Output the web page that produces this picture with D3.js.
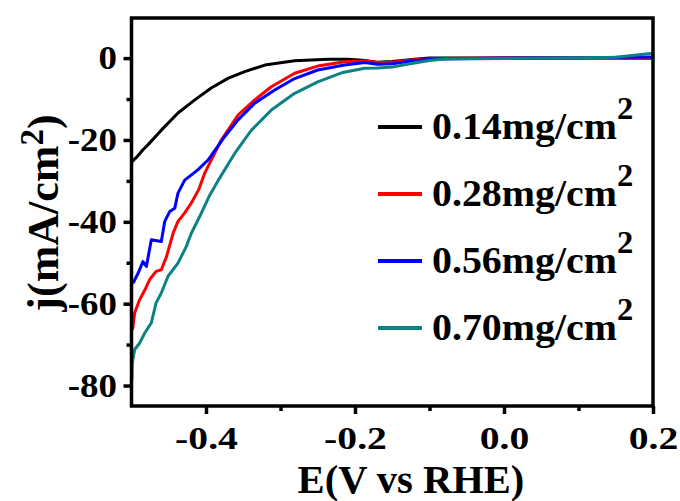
<!doctype html>
<html>
<head>
  <style>
    body { margin: 0; background: #fff; }
    svg text { font-family: "Liberation Serif", "Times New Roman", serif; font-weight: bold; fill: #000; }
  </style>
</head>
<body>
  <svg width="680" height="501"></svg>
  <script src="https://cdnjs.cloudflare.com/ajax/libs/d3/7.8.5/d3.min.js"></script>
  <script>
  // values, E in V vs RHE, j in mA/cm2
  var blackE = [-0.4993, -0.492, -0.4846, -0.478, -0.46, -0.4376, -0.415, -0.393, -0.37, -0.348, -0.321, -0.281, -0.236, -0.21, -0.19, -0.17, -0.15, -0.12, -0.1, -0.05, 0, 0.05, 0.1, 0.15, 0.2];
  var blackJ = [-25.3, -24, -22.4, -21.2, -17.6, -13.4, -10.2, -7.3, -4.9, -3.3, -1.7, -0.65, -0.25, -0.3, -0.5, -1.0, -0.8, -0.3, 0, 0, 0, 0, 0, 0, 0];

  var redE = [-0.4985, -0.4957, -0.489, -0.482, -0.4756, -0.467, -0.46, -0.453, -0.444, -0.4376, -0.4286, -0.4197, -0.41, -0.4017, -0.3795, -0.357, -0.3346, -0.3123, -0.281, -0.25, -0.2138, -0.187, -0.17, -0.15, -0.12, -0.09, 0, 0.1, 0.2];
  var redJ = [-66.3, -62.2, -59, -56.6, -54.1, -52.1, -51.7, -48.5, -42.7, -39.9, -37.8, -35.4, -32.2, -28.1, -20, -13.9, -10.2, -7, -3.7, -1.95, -0.9, -0.7, -1.1, -1.0, -0.4, -0.1, 0, 0, -0.1];

  var blueE = [-0.498, -0.491, -0.4846, -0.48, -0.4734, -0.46, -0.4554, -0.4487, -0.442, -0.4376, -0.4286, -0.411, -0.3973, -0.375, -0.357, -0.3346, -0.3078, -0.281, -0.25, -0.214, -0.187, -0.17, -0.15, -0.12, -0.09, 0, 0.1, 0.2];
  var blueJ = [-55, -52.5, -49.7, -50.9, -44.4, -44.8, -39.9, -37.5, -36.7, -33, -29.8, -27.3, -24.9, -19.2, -15.1, -11, -7.8, -5, -2.9, -1.7, -1.1, -1.5, -1.4, -0.6, -0.2, 0, 0.1, 0.3];

  var tealE = [-0.4995, -0.499, -0.4957, -0.489, -0.482, -0.4734, -0.467, -0.46, -0.451, -0.4376, -0.4264, -0.4197, -0.4063, -0.395, -0.384, -0.3615, -0.339, -0.3123, -0.281, -0.25, -0.218, -0.187, -0.17, -0.15, -0.13, -0.1, -0.08, 0, 0.1, 0.15, 0.2];
  var tealJ = [-78.5, -74.5, -71.2, -69.6, -67.1, -64.7, -59.8, -57.4, -53.3, -50.1, -46, -42.8, -37.9, -33.5, -30, -23.3, -17.6, -12.7, -8.6, -5.8, -3.6, -2.5, -2.4, -2.2, -1.5, -0.6, -0.2, -0.1, 0.1, 0.2, 1.2];

  var loadings = ["0.14", "0.28", "0.56", "0.70"];
  var colors = ["#000000", "#ff0000", "#0000ff", "#0e8282"];
  var xTicks = [-0.4, -0.2, 0.0, 0.2];
  var xMinor = [-0.3, -0.1, 0.1];
  var yTicks = [0, -20, -40, -60, -80];
  var yMinor = [-10, -30, -50, -70];

  var series = [[blackE, blackJ], [redE, redJ], [blueE, blueJ], [tealE, tealJ]];

  var margin = { top: 18, right: 27, bottom: 95, left: 131.5 },
    width = 680 - margin.left - margin.right,
    height = 501 - margin.top - margin.bottom;

  var svg = d3.select("svg");
  var g = svg.append("g").attr("transform", "translate(" + margin.left + "," + margin.top + ")");

  var x = d3.scaleLinear().domain([-0.5, 0.2]).range([0, width]);
  var y = d3.scaleLinear().domain([-85, 9.8]).range([height, 0]);

  g.append("clipPath").attr("id", "clip")
    .append("rect").attr("width", width).attr("height", height);

  var line = d3.line()
    .x(function(d) { return x(d[0]); })
    .y(function(d) { return y(d[1]); });

  g.append("g").attr("clip-path", "url(#clip)")
    .selectAll("path")
    .data(series)
    .enter().append("path")
    .attr("d", function(s) { return line(d3.zip(s[0], s[1])); })
    .style("fill", "none")
    .style("stroke", function(s, i) { return colors[i]; })
    .style("stroke-width", 3)
    .style("stroke-linejoin", "round");

  // frame
  g.append("rect")
    .attr("width", width).attr("height", height)
    .style("fill", "none").style("stroke", "#000").style("stroke-width", 3.5);

  var xAxis = g.append("g").attr("transform", "translate(0," + height + ")")
    .call(d3.axisBottom(x).tickValues(xTicks).tickSize(8).tickPadding(6).tickFormat(d3.format(".1f")));
  g.append("g").attr("transform", "translate(0," + height + ")")
    .call(d3.axisBottom(x).tickValues(xMinor).tickSize(5).tickFormat(""));
  var yAxis = g.append("g")
    .call(d3.axisLeft(y).tickValues(yTicks).tickSize(8).tickPadding(5));
  g.append("g")
    .call(d3.axisLeft(y).tickValues(yMinor).tickSize(5).tickFormat(""));

  g.selectAll(".domain").remove();
  g.selectAll(".tick line").style("stroke", "#000").style("stroke-width", 3.5);

  // the reference type is drawn wide, so tick labels are stretched sideways
  xAxis.selectAll("text")
    .attr("font-family", null).attr("font-size", null)
    .style("font-size", "31px").attr("dy", "0.95em")
    .attr("transform", "scale(1.28,1)")
    .text(function(d) { return d3.format(".1f")(d).replace("−", "-"); });
  yAxis.selectAll("text")
    .attr("font-family", null).attr("font-size", null)
    .style("font-size", "33px")
    .attr("transform", "scale(1.12,1)")
    .text(function(d) { return String(d).replace("−", "-"); });

  // axis titles
  svg.append("text")
    .attr("x", 411).attr("y", 493)
    .attr("text-anchor", "middle")
    .style("font-size", "39px")
    .attr("transform", "translate(411,0) scale(1.04,1) translate(-411,0)")
    .text("E(V vs RHE)");

  var yl = svg.append("text")
    .attr("transform", "translate(58,213) rotate(-90)")
    .attr("text-anchor", "middle")
    .style("font-size", "44px");
  yl.append("tspan").text("j(mA/cm");
  yl.append("tspan").attr("dy", -15).style("font-size", "33px").text("2");
  yl.append("tspan").attr("dy", 15).text(")");

  // legend
  var legend = svg.append("g").selectAll("g")
    .data(loadings)
    .enter().append("g")
    .attr("transform", function(d, i) { return "translate(378," + (127 + i * 67) + ")"; });

  legend.append("line")
    .attr("x1", 0).attr("x2", 44)
    .style("stroke", function(d, i) { return colors[i]; })
    .style("stroke-width", 4);

  var lt = legend.append("text")
    .attr("transform", "translate(54,12) scale(1.05,1)")
    .style("font-size", "38px");
  lt.append("tspan").text(function(d) { return d + "mg/cm"; });
  lt.append("tspan").attr("dy", -20).style("font-size", "31px").text("2");
  </script>
</body>
</html>
